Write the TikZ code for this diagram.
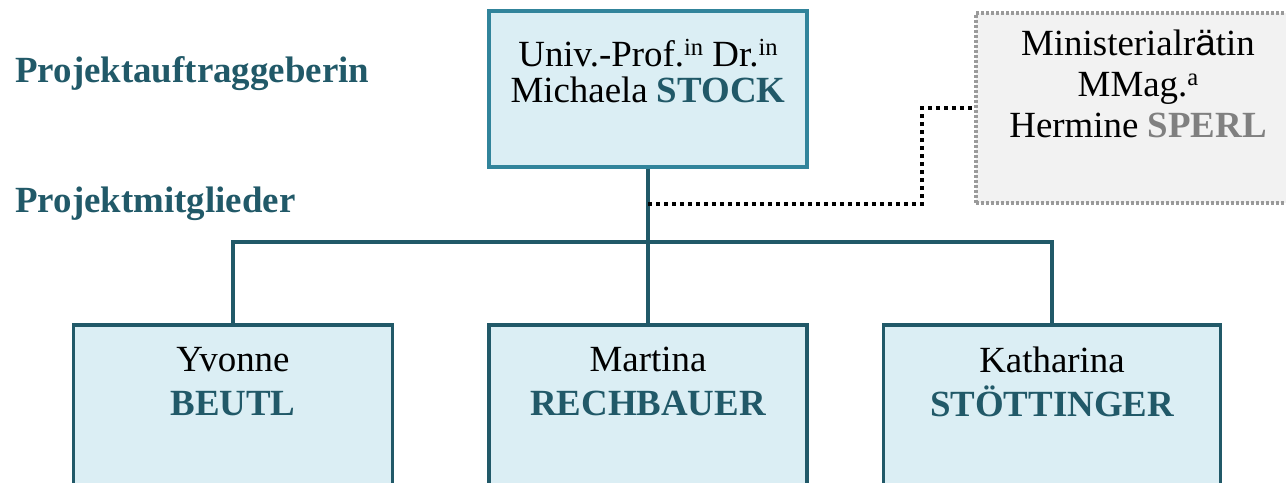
\documentclass[tikz,border=0pt]{standalone}
\usepackage{fontspec}
\setmainfont{Liberation Serif}
\newfontfamily\umlautsans{Liberation Sans}
\usetikzlibrary{positioning}

\definecolor{tealdark}{HTML}{215968}
\definecolor{teallight}{HTML}{31849B}
\definecolor{boxblue}{HTML}{DBEEF4}
\definecolor{boxgray}{HTML}{F2F2F2}
\definecolor{graytext}{HTML}{808080}
\definecolor{grayline}{HTML}{9A9A9A}

\tikzset{
  personbox/.style={draw=tealdark, line width=2.1pt, fill=boxblue, inner sep=0pt},
  gastbox/.style={draw=grayline, line width=2.1pt, fill=boxgray, inner sep=0pt,
    dash pattern=on 0.06cm off 0.04cm},
  linie/.style={draw=tealdark, line width=2.3pt},
  punktlinie/.style={line width=2.4pt, dash pattern=on 0.08cm off 0.08cm},
  rubrik/.style={font=\fontsize{21}{25}\selectfont\bfseries, text=tealdark, inner sep=0pt},
  namenstext/.style={align=center, inner sep=0pt, anchor=north}
}
\newcommand{\nachname}[1]{\textbf{\textcolor{tealdark}{#1}}}
\newcommand{\hochtext}[1]{\raisebox{0.3em}{\fontsize{14}{14}\selectfont #1}}

\begin{document}
\begin{tikzpicture}[x=0.02cm, y=-0.02cm]
    \useasboundingbox (0,0) rectangle (1286,483);

    % boxes
    \node[personbox, draw=teallight, minimum width=6.36cm, minimum height=3.12cm] (stock) at (648,89) {};
    \node[gastbox, minimum width=6.48cm, minimum height=3.8cm] (sperl) at (1138,108) {};
    \node[personbox, minimum width=6.38cm, minimum height=5cm] (beutl) at (233,450) {};
    \node[personbox, minimum width=6.36cm, minimum height=5cm] (rechb) at (648,450) {};
    \node[personbox, minimum width=6.74cm, minimum height=5cm] (stoett) at (1052,450) {};

    % names
    \node[namenstext, font=\fontsize{21}{20.5}\selectfont] (stocktxt) at (648,39)
      {Univ.-Prof.\hochtext{in} Dr.\hochtext{in}\\ Michaela \nachname{STOCK}};
    \node[namenstext, font=\fontsize{21}{23.3}\selectfont] (sperltxt) at (1138,30)
      {Ministerialr{\umlautsans ä}tin\\ MMag.\hochtext{a}\\ Hermine \textbf{\textcolor{graytext}{SPERL}}};
    \node[namenstext, font=\fontsize{21}{25}\selectfont] (beutltxt) at (233,347) {Yvonne\\ \nachname{BEUTL}};
    \node[namenstext, font=\fontsize{21}{25}\selectfont] (rechbtxt) at (648,347) {Martina\\ \nachname{RECHBAUER}};
    \node[namenstext, font=\fontsize{21}{25}\selectfont] (stoetttxt) at (1052,347) {Katharina\\ \nachname{STÖTTINGER}};

    % headings
    \node[rubrik, anchor=base west] (auftrag) at (15,83) {Projektauftraggeberin};
    \node[rubrik, anchor=base west] (mitglieder) at (15,213) {Projektmitglieder};

    % connectors
    \coordinate (bus) at (648,242);
    \coordinate (abzweig) at (648,204);
    \draw[linie] (stock.south) -- (rechb.north);
    \draw[linie] (beutl.north) |- (bus) -| (stoett.north);
    \draw[punktlinie] (abzweig) -- (922,204) |- (sperl.west);
\end{tikzpicture}
\end{document}
